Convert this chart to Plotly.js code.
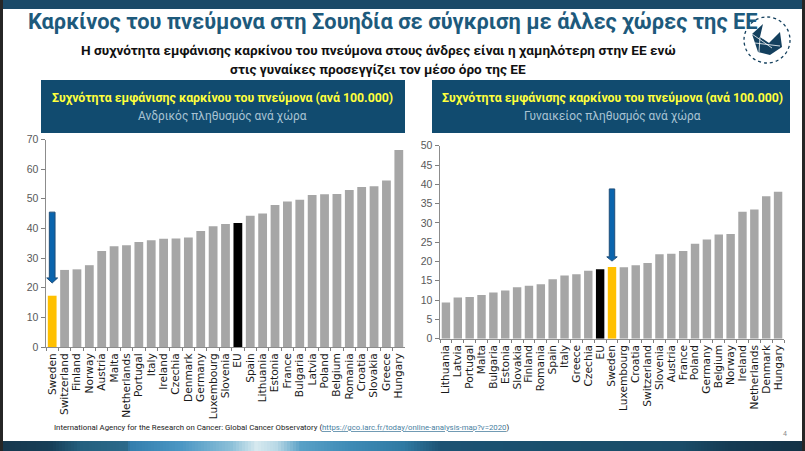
<!DOCTYPE html>
<html><head><meta charset="utf-8">
<script src="https://cdn.plot.ly/plotly-3.0.1.min.js"></script>
<style>html,body{margin:0;padding:0;background:#fff}</style>
</head><body><div id="chart" style="width:805px;height:451px"></div>
<script>
const maleCountries = ["Sweden","Switzerland","Finland","Norway","Austria","Malta","Netherlands","Portugal","Italy","Ireland","Czechia","Denmark","Germany","Luxembourg","Slovenia","EU","Spain","Lithuania","Estonia","France","Bulgaria","Latvia","Poland","Belgium","Romania","Croatia","Slovakia","Greece","Hungary"];
const maleValues = [17.3,26,26.2,27.6,32.4,34,34.3,35.4,36,36.5,36.6,36.9,39.1,40.7,41.5,41.8,44.3,45,47.9,49.1,49.7,51.3,51.5,51.6,53,54,54.2,56.2,66.5];
const femaleCountries = ["Lithuania","Latvia","Portugal","Malta","Bulgaria","Estonia","Slovakia","Finland","Romania","Spain","Italy","Greece","Czechia","EU","Sweden","Luxembourg","Croatia","Switzerland","Slovenia","Austria","France","Poland","Germany","Belgium","Norway","Ireland","Netherlands","Denmark","Hungary"];
const femaleValues = [9.4,10.7,10.8,11.3,12,12.5,13.3,13.7,14.1,15.4,16.4,16.7,17.6,18,18.6,18.5,19,19.6,21.9,22,22.7,24.6,25.7,27,27.1,32.9,33.5,36.9,38.1];

const W = 805, H = 451;
const px = x => x / W, py = y => 1 - y / H;
const barColor = c => c === "Sweden" ? "#ffc000" : c === "EU" ? "#000000" : "#a6a6a6";
const sansFont = "Roboto, 'Liberation Sans', sans-serif";
const axisFont = "'DejaVu Sans', sans-serif";

const traces = [
  {type:"bar", x:maleCountries, y:maleValues, xaxis:"x", yaxis:"y", marker:{color:maleCountries.map(barColor)}},
  {type:"bar", x:femaleCountries, y:femaleValues, xaxis:"x2", yaxis:"y2", marker:{color:femaleCountries.map(barColor)}}
];

function xAxis(x0, x1, anchor){
  return {domain:[px(x0),px(x1)], anchor, type:"category", range:[-0.5,28.5], fixedrange:true,
    tickson:"boundaries", ticks:"outside", ticklen:3, tickwidth:1, tickcolor:"#7f7f7f",
    showline:true, linecolor:"#8c8c8c", linewidth:1, showgrid:false, tickangle:-90,
    tickfont:{family:axisFont, size:10.6, color:"#1a1a1a"}, automargin:false, dtick:1, ticklabelstandoff:1};
}
function yAxis(y0, y1, anchor, max, step){
  return {domain:[py(y0),py(y1)], anchor, range:[0,max], dtick:step, fixedrange:true,
    ticks:"outside", ticklen:4, tickwidth:1, tickcolor:"#7f7f7f",
    showline:true, linecolor:"#8c8c8c", linewidth:1.5, showgrid:false, zeroline:false,
    tickfont:{family:"'Liberation Sans', sans-serif", size:10.5, color:"#595959"}, automargin:false};
}

function rect(x0,y0,x1,y1,color,layer){
  return {type:"rect", xref:"paper", yref:"paper", x0:px(x0), x1:px(x1), y0:py(y0), y1:py(y1),
    fillcolor:color, line:{width:0}, layer:layer||"below"};
}
function poly(points,color){
  const d = points.map((p,i)=>(i?"L":"M")+px(p[0]).toFixed(5)+","+py(p[1]).toFixed(5)).join(" ")+" Z";
  return {type:"path", xref:"paper", yref:"paper", path:d, fillcolor:color, line:{width:0}, layer:"above"};
}
function arrow(xref, yref, i, top, neck, tip){
  const s=0.23, h=0.44;
  const d=`M ${i-s},${top} L ${i+s},${top} L ${i+s},${neck} L ${i+h},${neck} L ${i},${tip} L ${i-h},${neck} L ${i-s},${neck} Z`;
  return {type:"path", xref, yref, path:d, fillcolor:"#0a64ad", line:{color:"#1f4e79",width:1}, layer:"above"};
}

const bandStops = [[3,[23,56,78]],[50,[23,63,88]],[80,[36,96,127]],[125,[44,106,138]],[130,[52,127,174]],[180,[75,151,196]],[230,[140,192,216]],[255,[214,233,239]],[275,[185,217,230]],[300,[88,160,198]],[350,[61,138,181]],[402,[47,122,163]],[440,[28,82,115]],[560,[26,79,108]],[680,[26,76,104]],[730,[21,58,82]],[802,[20,50,70]]];
const bandShapes = [];
for (let k = 0; k < bandStops.length-1; k++) {
  const [a,ca] = bandStops[k], [b,cb] = bandStops[k+1];
  for (let x = a; x < b; x += 3) {
    const t = (x-a)/(b-a);
    const c = ca.map((v,j)=>Math.round(v+(cb[j]-v)*t));
    bandShapes.push(rect(x,441,Math.min(x+3,b)+0.5,451,`rgb(${c.join(",")})`));
  }
}

const navy="#14405e";
const shapes = [
  rect(0,0,W,9,"#1b4a68"),
  ...bandShapes,
  rect(0,0,3,H,"#262626"),
  rect(802,0,W,H,"#262626"),
  rect(41,80,405,133,"#114b6f"),
  rect(432,80,790,133,"#114b6f"),
  arrow("x","y",maleCountries.indexOf("Sweden"),45.5,23.3,21.6),
  arrow("x2","y2",femaleCountries.indexOf("Sweden"),38.8,21.2,20.1),
  {type:"circle", xref:"paper", yref:"paper", x0:px(744), x1:px(790), y0:py(17), y1:py(63), line:{color:navy,width:1.3,dash:"dot"}, fillcolor:"rgba(0,0,0,0)", layer:"above"},
  poly([[752,34],[763,24],[760,37],[769,43],[780,32],[782,47],[770,55],[758,52],[755,43]],navy),
  {type:"path", xref:"paper", yref:"paper", path:`M${px(752)},${py(34)} L${px(772)},${py(48)} M${px(760)},${py(37)} L${px(759)},${py(52)} M${px(755)},${py(43)} L${px(780)},${py(46)}`, line:{color:"#ffffff",width:0.8}, layer:"above"}
];

const note = (text,x,y,size,color,opts) => Object.assign({xref:"paper",yref:"paper",x:px(x),y:py(y),text,showarrow:false,xanchor:"center",yanchor:"middle",
  font:{family:sansFont,size,color}},opts||{});
const annotations = [
  note("<b>Καρκίνος του πνεύμονα στη Σουηδία σε σύγκριση με άλλες χώρες της ΕΕ</b>",393,22,21.8,"#1d5a7c"),
  note("<b>Η συχνότητα εμφάνισης καρκίνου του πνεύμονα στους άνδρες είναι η χαμηλότερη στην ΕΕ ενώ</b>",378,51,13.6,"#111111"),
  note("<b>στις γυναίκες προσεγγίζει τον μέσο όρο της ΕΕ</b>",378,69,13.6,"#111111"),
  note("<b>Συχνότητα εμφάνισης καρκίνου του πνεύμονα (ανά 100.000)</b>",223,99,12.3,"#ffff3c"),
  note("Ανδρικός πληθυσμός ανά χώρα",223,116,11.9,"#a9c3d3"),
  note("<b>Συχνότητα εμφάνισης καρκίνου του πνεύμονα (ανά 100.000)</b>",612,99,12.3,"#ffff3c"),
  note("Γυναικείος πληθυσμός ανά χώρα",612,116,11.9,"#a9c3d3"),
  note('International Agency for the Research on Cancer: Global Cancer Observatory (<span style="color:#4a7f9f;text-decoration:underline">https://gco.iarc.fr/today/online-analysis-map?v=2020</span>)',52,427,7.8,"#222222",{xanchor:"left"}),
  note("4",785,434,7,"#8c8c8c")
];

Plotly.newPlot("chart", traces, {
  width:W, height:H, autosize:false, showlegend:false,
  margin:{l:0,r:0,t:0,b:0,pad:0},
  paper_bgcolor:"#ffffff", plot_bgcolor:"rgba(0,0,0,0)",
  bargap:0.29,
  xaxis:xAxis(46,405,"y"), yaxis:yAxis(347,139.5,"x",70,10),
  xaxis2:xAxis(440,784,"y2"), yaxis2:yAxis(338.7,145.7,"x2",50,5),
  shapes, annotations
}, {displayModeBar:false, staticPlot:true});
</script></body></html>
